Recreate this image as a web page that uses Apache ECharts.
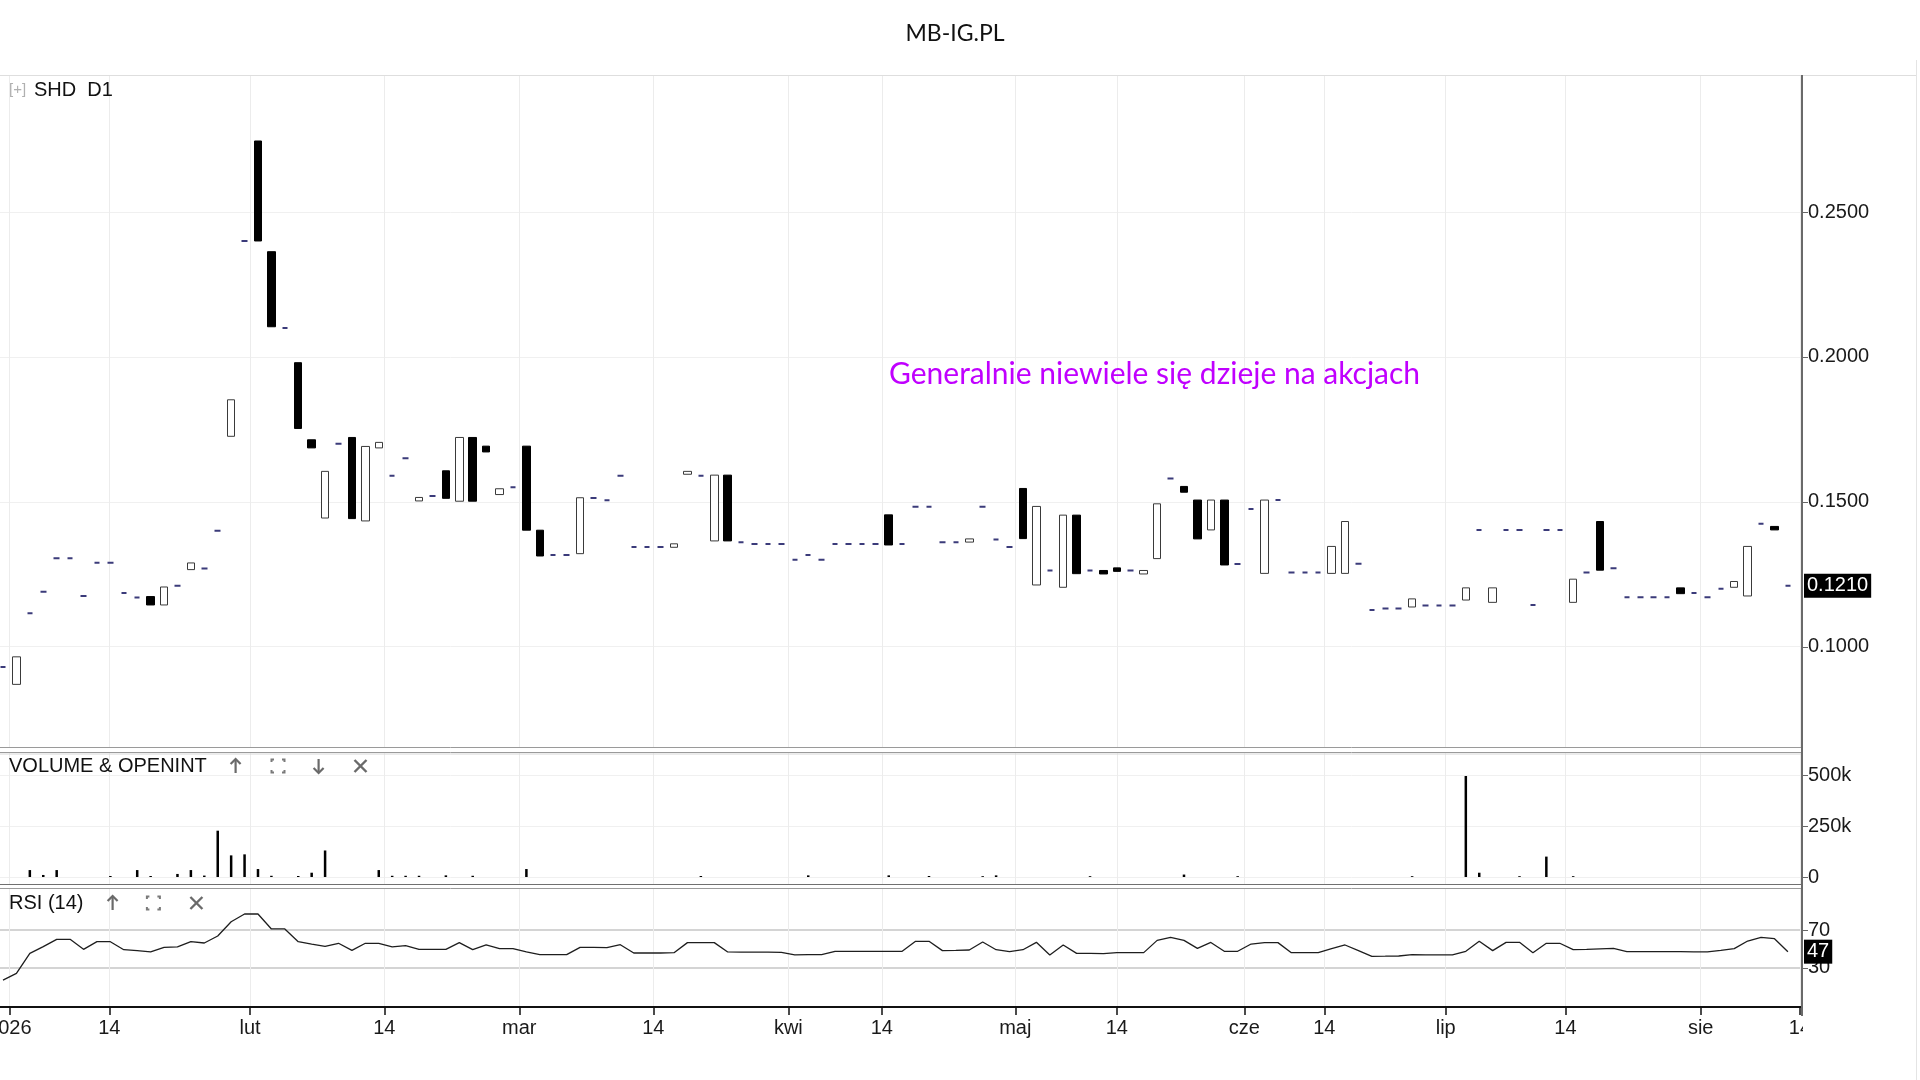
<!DOCTYPE html>
<html><head><meta charset="utf-8">
<script src="https://cdn.jsdelivr.net/npm/echarts@6/dist/echarts.min.js"></script>
<style>html,body{margin:0;padding:0;background:#fff}#c{width:1920px;height:1080px}</style>
</head><body><div id="c"></div>
<script>
// ---------- data ----------
const opens = [
0.093,0.087,0.1115,0.119,0.1305,0.1305,0.1175,0.129,0.129,0.1185,
0.117,0.1173,0.1144,0.121,0.1266,0.127,0.140,0.1726,0.240,0.2745,
0.2363,0.210,0.198,0.1714,0.1444,0.170,0.1722,0.1434,0.1686,0.159,
0.165,0.1503,0.152,0.1607,0.1502,0.1722,0.1692,0.1525,0.155,0.1692,
0.1402,0.1316,0.1316,0.1321,0.1513,0.1505,0.159,0.1344,0.1344,0.1344,
0.1343,0.1595,0.159,0.1365,0.1592,0.136,0.1354,0.1354,0.1354,0.130,
0.1316,0.130,0.1354,0.1354,0.1354,0.1354,0.1455,0.1354,0.1483,0.1483,
0.136,0.136,0.1361,0.1483,0.137,0.1344,0.1546,0.1213,0.1263,0.1205,
0.1454,0.1263,0.1263,0.1272,0.1263,0.1251,0.1304,0.158,0.1553,0.1506,
0.1403,0.1506,0.1285,0.1475,0.1253,0.1506,0.1256,0.1256,0.1256,0.1253,
0.1253,0.1286,0.1127,0.1132,0.1132,0.1137,0.1142,0.1142,0.1142,0.1161,
0.1403,0.1153,0.1403,0.1403,0.1144,0.1403,0.1403,0.1153,0.1256,0.1432,
0.1271,0.1171,0.1171,0.1171,0.1171,0.1203,0.1185,0.1171,0.12,0.1205,
0.1175,0.1424,0.1415,0.121];
const closes = [
0.093,0.0965,0.1115,0.119,0.1305,0.1305,0.1175,0.129,0.129,0.1185,
0.117,0.1144,0.1206,0.121,0.1289,0.127,0.140,0.1852,0.240,0.240,
0.2104,0.210,0.1753,0.1686,0.1605,0.170,0.1442,0.1691,0.1705,0.159,
0.165,0.1515,0.152,0.1512,0.1722,0.1502,0.1672,0.1545,0.155,0.1402,
0.1313,0.1316,0.1316,0.1514,0.1513,0.1505,0.159,0.1344,0.1344,0.1344,
0.1355,0.1605,0.159,0.1592,0.1365,0.136,0.1354,0.1354,0.1354,0.130,
0.1316,0.130,0.1354,0.1354,0.1354,0.1354,0.1351,0.1354,0.1483,0.1483,
0.136,0.136,0.1372,0.1483,0.137,0.1344,0.1373,0.1484,0.1263,0.1454,
0.1252,0.1263,0.1251,0.126,0.1263,0.1263,0.1493,0.158,0.1533,0.1372,
0.1506,0.1282,0.1285,0.1475,0.1506,0.1506,0.1256,0.1256,0.1256,0.1346,
0.1432,0.1286,0.1127,0.1132,0.1132,0.1165,0.1142,0.1142,0.1142,0.1203,
0.1403,0.1203,0.1403,0.1403,0.1144,0.1403,0.1403,0.1233,0.1256,0.1264,
0.1271,0.1171,0.1171,0.1171,0.1171,0.1183,0.1185,0.1171,0.12,0.1225,
0.1346,0.1424,0.1403,0.121];
const volumes = [
0,0,34000,10000,34000,0,0,0,5000,0,
34000,5000,0,15000,34000,7000,227000,106000,111000,39000,
6000,0,5000,21000,130000,0,0,0,34000,6000,
6000,6000,0,8000,0,6000,0,0,0,39000,
0,0,0,0,0,0,0,0,0,0,
0,0,5000,0,0,0,0,0,0,0,
8000,0,0,0,0,0,8000,0,0,5000,
0,0,0,4000,8000,0,0,0,0,0,
0,4000,0,0,0,0,0,0,12000,0,
0,0,4000,0,0,0,0,0,0,0,
0,0,0,0,0,4000,0,0,0,495000,
21000,0,0,4000,0,100000,0,4000,0,0,
0,0,0,0,0,0,0,0,0,0,
0,0,0,0];
const rsi = [
16.9,24.0,45.2,52.3,60.1,60.1,49.5,57.6,57.6,49.1,
48.1,46.7,51.6,52.0,57.6,56.2,63.6,78.8,87.0,87.0,
71.1,71.1,57.6,55.1,52.7,55.9,48.4,55.9,55.9,52.0,
53.4,49.5,49.5,49.5,56.6,49.1,54.1,50.2,50.2,46.7,
43.8,43.8,43.8,51.6,51.6,51.2,54.4,45.6,45.6,45.6,
45.9,56.6,56.6,56.6,46.7,46.5,46.5,46.5,46.3,43.5,
43.8,43.8,47.4,47.4,47.4,47.4,47.4,47.4,58.0,58.0,
48.1,48.4,48.8,57.3,49.1,47.0,49.1,56.9,43.5,54.1,
45.2,45.2,44.9,46.0,46.0,46.0,59.0,62.2,59.0,50.5,
56.8,47.4,47.4,55.1,56.6,56.6,45.9,45.9,45.9,50.2,
54.1,48.1,42.1,42.2,42.4,43.8,43.5,43.5,43.5,47.4,
58.0,48.1,56.9,56.9,45.9,55.9,55.9,49.1,49.5,50.0,
50.5,47.0,47.0,47.0,47.0,47.0,46.8,46.7,48.4,50.2,
58.3,62.2,60.8,47];
const dateTickPos = [0.47,7.92,18.41,28.41,38.47,48.46,58.52,65.48,75.43,82.99,92.5,98.46,107.5,116.42,126.5,133.9];
const dateTickText = ['2026','14','lut','14','mar','14','kwi','14','maj','14','cze','14','lip','14','sie','14'];
const priceTicks = [0.10,0.15,0.20,0.25];
const volumeTicks = [0,250000,500000];
const volumeTickText = ['0','250k','500k'];
const rsiTicks = [30,70];
const lastPrice = 0.1210;
const lastRsi = 47;
const chartTitle = 'MB-IG.PL';
const priceTitle = 'SHD  D1';
const volumeTitle = 'VOLUME & OPENINT';
const rsiTitle = 'RSI (14)';
const note = 'Generalnie niewiele się dzieje na akcjach';

// ---------- build ----------
const candleData = [], dashData = [];
opens.forEach((o, i) => {
  const c = closes[i];
  const row = [i, o, c, Math.min(o, c), Math.max(o, c)];
  if (o === c) dashData.push(row); else candleData.push(row);
});
const volData = volumes.map((v, i) => [i, v]);
const rsiData = rsi.map((v, i) => [i, v]);

const AX = 'Liberation Sans, Arial, sans-serif';
const xMin = -0.2235, xMax = 134.05;
function nearestLabel(v) {
  let best = 0, d = 1e9;
  dateTickPos.forEach((p, k) => { if (Math.abs(p - v) < d) { d = Math.abs(p - v); best = k; } });
  return dateTickText[best];
}
function xAxisCfg(gi, showLabels) {
  return {
    type: 'value', gridIndex: gi, min: xMin, max: xMax,
    axisLine: { show: showLabels, onZero: false, lineStyle: { color: '#111', width: 2 } },
    axisTick: { show: showLabels, customValues: dateTickPos, length: 8, lineStyle: { color: '#111', width: 1.5 } },
    axisLabel: { show: showLabels, customValues: dateTickPos, formatter: nearestLabel, margin: 11,
      color: '#1a1a1a', fontSize: 20, fontFamily: AX },
    splitLine: { show: true, lineStyle: { color: '#ececec', width: 1 } }
  };
}
function yAxisCfg(gi, min, max, ticks, fmt, splitColor, splitWidth) {
  return {
    type: 'value', gridIndex: gi, position: 'right', min: min, max: max,
    axisLine: { show: false, onZero: false },
    axisTick: { show: false, customValues: ticks },
    axisLabel: { show: true, customValues: ticks, formatter: fmt, margin: 6, color: '#1a1a1a', fontSize: 20, fontFamily: AX },
    splitLine: { show: true, lineStyle: { color: splitColor, width: splitWidth } }
  };
}

const PLOT_R = 1802;
function hline(y, x1, x2, color, w) {
  return { type: 'line', silent: true, z: 50, shape: { x1: x1, y1: y, x2: x2, y2: y }, style: { stroke: color, lineWidth: w } };
}
function txt(x, y, s, font, fill, align) {
  return { type: 'text', x: x, y: y, silent: true, z: 60,
    style: { text: s, font: font, fill: fill, textAlign: align || 'left', align: align || 'left',
             textVerticalAlign: 'middle', verticalAlign: 'middle' } };
}
function arrowUp(x, y, dir) {
  const d = dir || 1;
  return [
    { type: 'line', silent: true, z: 60, shape: { x1: x, y1: y - 7 * d, x2: x, y2: y + 7 * d }, style: { stroke: '#6a6a6a', lineWidth: 2.2 } },
    { type: 'polyline', silent: true, z: 60, shape: { points: [[x - 5, y - 2 * d], [x, y - 7 * d], [x + 5, y - 2 * d]] }, style: { stroke: '#6a6a6a', lineWidth: 2.2, fill: null } }
  ];
}
function expandIcon(x, y) {
  const s = 6.5, k = 2.5, st = { stroke: '#7a7a7a', lineWidth: 2, fill: null };
  return [
    [[x - s, y - s + k], [x - s, y - s], [x - s + k, y - s]],
    [[x + s - k, y - s], [x + s, y - s], [x + s, y - s + k]],
    [[x - s, y + s - k], [x - s, y + s], [x - s + k, y + s]],
    [[x + s - k, y + s], [x + s, y + s], [x + s, y + s - k]]
  ].map(p => ({ type: 'polyline', silent: true, z: 60, shape: { points: p }, style: st }));
}
function closeIcon(x, y) {
  const s = 6, st = { stroke: '#6a6a6a', lineWidth: 2.4 };
  return [
    { type: 'line', silent: true, z: 60, shape: { x1: x - s, y1: y - s, x2: x + s, y2: y + s }, style: st },
    { type: 'line', silent: true, z: 60, shape: { x1: x + s, y1: y - s, x2: x - s, y2: y + s }, style: st }
  ];
}

const graphics = [
  hline(75.5, 0, 1916, '#dedede', 1),
  hline(747.5, 0, PLOT_R, '#9a9a9a', 1),
  hline(752.5, 0, PLOT_R, '#9a9a9a', 1),
  hline(754, 0, PLOT_R, '#d8d8d8', 1),
  hline(884.5, 0, PLOT_R, '#707070', 1.2),
  hline(888.5, 0, PLOT_R, '#9a9a9a', 1),
  { type: 'line', silent: true, z: 55, shape: { x1: PLOT_R, y1: 75, x2: PLOT_R, y2: 1016 }, style: { stroke: '#6a6a6a', lineWidth: 2 } },
  { type: 'line', silent: true, z: 55, shape: { x1: 1916.5, y1: 60, x2: 1916.5, y2: 1080 }, style: { stroke: '#e4e4e4', lineWidth: 1 } },
  { type: 'rect', silent: true, z: 70, shape: { x: PLOT_R + 1, y: 1017, width: 40, height: 30 }, style: { fill: '#fff' } },
  txt(955, 34, chartTitle, '23px Lato, "Open Sans", sans-serif', '#111', 'center'),
  txt(9, 90, '[+]', '15px ' + AX, '#b0b0b0'),
  txt(34, 90, priceTitle, '20px ' + AX, '#111'),
  txt(9, 766, volumeTitle, '20px ' + AX, '#111'),
  txt(9, 903, rsiTitle, '20px ' + AX, '#111'),
  txt(889, 374, note, '30px Lato, "Open Sans", sans-serif', '#c000ff')
].concat(arrowUp(235.6, 766), expandIcon(278, 766), arrowUp(318.6, 766, -1), closeIcon(360.5, 766),
         arrowUp(112.6, 903), expandIcon(153.4, 903), closeIcon(196.4, 903));
graphics.forEach((g, i) => { g.id = 'g' + i; });

const gridBase = { left: 0, right: 1920 - PLOT_R, containLabel: false, outerBoundsMode: 'none' };
const option = {
  animation: false,
  backgroundColor: '#fff',
  grid: [
    Object.assign({ top: 75, height: 672 }, gridBase),
    Object.assign({ top: 752, height: 132 }, gridBase),
    Object.assign({ top: 888, height: 119 }, gridBase)
  ],
  xAxis: [xAxisCfg(0, false), xAxisCfg(1, false), xAxisCfg(2, true)],
  yAxis: [
    yAxisCfg(0, 0.06539, 0.29727, priceTicks, v => v.toFixed(4), '#f0f0f0', 1),
    yAxisCfg(1, -34300, 612700, volumeTicks, v => { const k = volumeTicks.indexOf(v); return k >= 0 ? volumeTickText[k] : (v / 1000) + 'k'; }, '#f0f0f0', 1),
    yAxisCfg(2, -11.7, 114.56, rsiTicks, v => String(Math.round(v)), '#c6c6c6', 1.6)
  ],
  series: [
    {
      type: 'candlestick', xAxisIndex: 0, yAxisIndex: 0, barWidth: 8,
      dimensions: ['x', 'open', 'close', 'low', 'high'],
      encode: { x: 0, y: [1, 2, 3, 4] },
      data: candleData,
      itemStyle: { color: '#ffffff', color0: '#000000', borderColor: '#3a3a3a', borderColor0: '#000000', borderWidth: 1 }
    },
    {
      type: 'candlestick', xAxisIndex: 0, yAxisIndex: 0, barWidth: 6,
      dimensions: ['x', 'open', 'close', 'low', 'high'],
      encode: { x: 0, y: [1, 2, 3, 4] },
      data: dashData,
      itemStyle: { color: '#3b3b7a', color0: '#3b3b7a', borderColor: '#3b3b7a', borderColor0: '#3b3b7a', borderColorDoji: '#3b3b7a', borderWidth: 2 }
    },
    {
      type: 'bar', xAxisIndex: 1, yAxisIndex: 1, barWidth: 2.5, data: volData,
      itemStyle: { color: '#000' }
    },
    {
      type: 'line', xAxisIndex: 2, yAxisIndex: 2, data: rsiData, showSymbol: false, symbol: 'none',
      lineStyle: { color: '#1e1e1e', width: 1.3 }
    }
  ],
  graphic: { elements: graphics }
};
const chart = echarts.init(document.getElementById('c'), null, { renderer: 'canvas' });
chart.setOption(option);

// right-hand tick marks and last-value boxes, placed through the axes' own scales
const extra = [];
function addTicks(axisIdx, ticks) {
  ticks.forEach((t, k) => {
    const p = chart.convertToPixel({ xAxisIndex: axisIdx, yAxisIndex: axisIdx }, [xMax, t]);
    extra.push({ id: 'tk' + axisIdx + '_' + k, type: 'line', silent: true, z: 56,
      shape: { x1: PLOT_R + 1, y1: Math.round(p[1]) + 0.5, x2: PLOT_R + 6, y2: Math.round(p[1]) + 0.5 },
      style: { stroke: '#666', lineWidth: 1 } });
  });
}
addTicks(0, priceTicks);
addTicks(1, volumeTicks);
addTicks(2, rsiTicks);
const pY = chart.convertToPixel({ xAxisIndex: 0, yAxisIndex: 0 }, [xMax, lastPrice]);
const rY = chart.convertToPixel({ xAxisIndex: 2, yAxisIndex: 2 }, [xMax, lastRsi]);
function valueBox(id, y, s) {
  return { id: id, type: 'text', x: PLOT_R + 2, y: y, z: 80, silent: true,
    style: { text: s, font: '20px ' + AX, fill: '#fff', backgroundColor: '#000', padding: [3, 3, 1, 3],
      textAlign: 'left', align: 'left', textVerticalAlign: 'middle', verticalAlign: 'middle' } };
}
extra.push(valueBox('lastPrice', pY[1], lastPrice.toFixed(4)));
extra.push(valueBox('lastRsi', rY[1], String(lastRsi)));
chart.setOption({ graphic: { elements: extra } });
</script>
</body></html>
